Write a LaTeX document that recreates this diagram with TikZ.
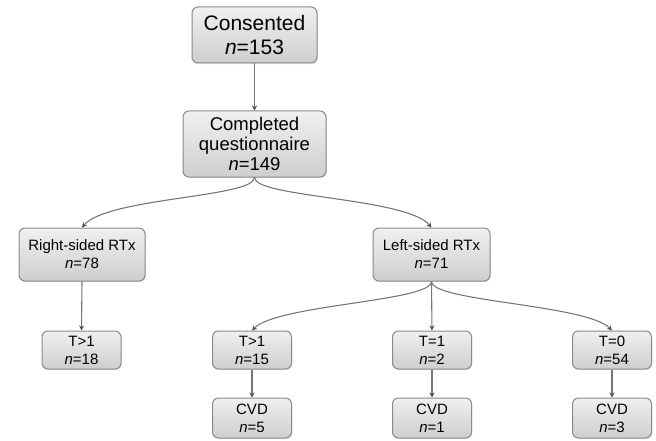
\documentclass[tikz,border=0pt]{standalone}
\usepackage{fontspec}
\setmainfont{Liberation Sans}
\usetikzlibrary{arrows.meta,shadows}
\definecolor{boxline}{RGB}{138,138,138}
\definecolor{boxtop}{RGB}{240,240,240}
\definecolor{boxbot}{RGB}{206,206,206}
\definecolor{linkc}{RGB}{120,120,120}
\definecolor{tipc}{RGB}{80,80,80}
\begin{document}
\begin{tikzpicture}[x=1pt,y=1pt,
  box/.style={draw=boxline, line width=1pt, rounded corners=6pt,
    top color=boxtop, bottom color=boxbot, align=center, inner sep=0pt,
    drop shadow={opacity=0.18, shadow xshift=0.8pt, shadow yshift=-1.2pt}},
  bigtxt/.style={font=\fontsize{21}{24}\selectfont},
  midtxt/.style={font=\fontsize{18.5}{20}\selectfont},
  smalltxt/.style={font=\fontsize{15}{18}\selectfont},
  link/.style={draw=linkc, line width=1.1pt, -{Stealth[length=5pt,width=5pt,color=tipc]}}]
\useasboundingbox (0,0) rectangle (656,-441);
\fill[white] (0,0) rectangle (656,-441);

\node[box,bigtxt,minimum width=125pt,minimum height=56pt] (cons) at (254.5,-35) {Consented\\\textit{n}=153};
\node[box,midtxt,minimum width=143pt,minimum height=66pt] (comp) at (254.5,-144) {Completed\\questionnaire\\\textit{n}=149};
\node[box,smalltxt,minimum width=126pt,minimum height=53pt] (right) at (82,-254.5) {Right-sided RTx\\\textit{n}=78};
\node[box,smalltxt,minimum width=117pt,minimum height=53pt] (left) at (431.5,-254.5) {Left-sided RTx\\\textit{n}=71};

\node[box,smalltxt,minimum width=79pt,minimum height=38pt] (ta) at (81.5,-350) {T>1\\\textit{n}=18};
\node[box,smalltxt,minimum width=79pt,minimum height=38pt] (tb) at (252,-350) {T>1\\\textit{n}=15};
\node[box,smalltxt,minimum width=79pt,minimum height=38pt] (tc) at (432,-350) {T=1\\\textit{n}=2};
\node[box,smalltxt,minimum width=79pt,minimum height=38pt] (td) at (612,-350) {T=0\\\textit{n}=54};

\node[box,smalltxt,minimum width=79pt,minimum height=40pt] (cb) at (252,-418) {CVD\\\textit{n}=5};
\node[box,smalltxt,minimum width=79pt,minimum height=40pt] (cc) at (432,-418) {CVD\\\textit{n}=1};
\node[box,smalltxt,minimum width=79pt,minimum height=40pt] (cd) at (612,-418) {CVD\\\textit{n}=3};

\draw[link] (cons.south) -- (comp.north);
\draw[link] (comp.south) .. controls +(0,-20) and +(25,30) .. (right.north);
\draw[link] (comp.south) .. controls +(0,-20) and +(-25,30) .. (left.north);
\draw[link] (right.south) -- (ta.north);
\draw[link] (left.south) .. controls +(0,-20) and +(25,26) .. (tb.north);
\draw[link] (left.south) -- (tc.north);
\draw[link] (left.south) .. controls +(0,-20) and +(-25,26) .. (td.north);
\draw[link] (tb.south) -- (cb.north);
\draw[link] (tc.south) -- (cc.north);
\draw[link] (td.south) -- (cd.north);
\end{tikzpicture}
\end{document}
